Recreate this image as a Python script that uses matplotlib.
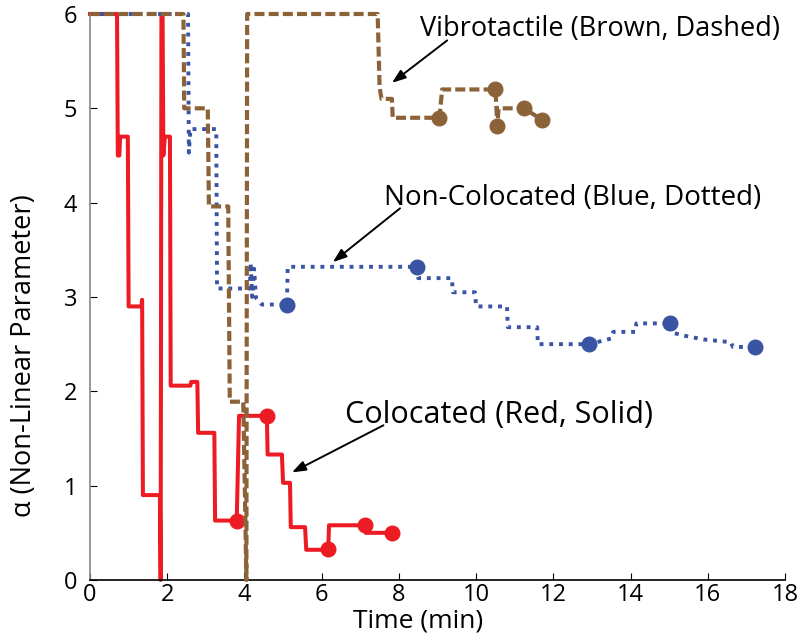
import matplotlib.pyplot as plt

plt.rcParams['font.family'] = ['Open Sans', 'DejaVu Sans']

# Colocated (red, solid) trajectory
red_t = [0, 0.70, 0.72, 0.76, 0.78, 0.98, 1.00, 1.33, 1.35, 1.37, 1.81, 1.83,
         1.85, 1.88, 1.90, 1.94, 2.07, 2.09, 2.60, 2.62, 2.78, 2.80, 3.22, 3.24,
         3.80, 3.86, 4.58, 4.60, 4.97, 5.00, 5.18, 5.20, 5.57, 5.60, 6.17, 6.19,
         7.12, 7.14, 7.82]
red_a = [6, 6, 4.5, 4.5, 4.7, 4.7, 2.9, 2.9, 2.97, 0.9, 0.9, 0,
         6, 6, 4.5, 4.7, 4.7, 2.06, 2.06, 2.1, 2.1, 1.56, 1.56, 0.63,
         0.63, 1.74, 1.74, 1.33, 1.33, 1.03, 1.03, 0.56, 0.56, 0.32, 0.32, 0.58,
         0.58, 0.5, 0.5]
red_mt = [3.80, 4.58, 6.17, 7.12, 7.82]
red_ma = [0.63, 1.74, 0.33, 0.58, 0.50]

# Non-Colocated (blue, dotted) trajectory
blue_t = [0, 2.54, 2.56, 2.60, 3.27, 3.29, 4.14, 4.16, 4.20, 4.25, 4.30, 4.45,
          5.10, 5.12, 8.47, 8.50, 9.37, 9.40, 9.97, 10.00, 10.80, 10.82, 11.58,
          11.60, 12.93, 13.50, 13.55, 14.12, 14.15, 15.03, 15.10, 15.50, 15.90,
          16.60, 16.65, 17.23]
blue_a = [6, 6, 4.53, 4.78, 4.78, 3.09, 3.09, 3.36, 3.0, 3.3, 2.99, 2.92,
          2.92, 3.32, 3.32, 3.2, 3.2, 3.05, 3.05, 2.9, 2.9, 2.68, 2.68,
          2.5, 2.5, 2.56, 2.63, 2.63, 2.72, 2.72, 2.62, 2.58, 2.55,
          2.52, 2.47, 2.47]
blue_mt = [5.10, 8.47, 12.93, 15.03, 17.23]
blue_ma = [2.92, 3.32, 2.50, 2.72, 2.47]

# Vibrotactile (brown, dashed) trajectory
brown_t = [0, 2.42, 2.44, 3.05, 3.08, 3.58, 3.62, 3.97, 4.05, 4.07, 7.45, 7.50,
           7.55, 7.82, 7.84, 9.05, 9.12, 10.50, 10.55, 10.58, 11.24, 11.70]
brown_a = [6, 6, 5.0, 5.0, 3.96, 3.96, 1.89, 1.89, 0, 6, 6, 5.22,
           5.1, 5.1, 4.9, 4.9, 5.2, 5.2, 4.81, 5.0, 5.0, 4.88]
brown_mt = [9.05, 10.50, 10.55, 11.24, 11.70]
brown_ma = [4.90, 5.20, 4.81, 5.00, 4.88]

RED = '#ED1C24'
BLUE = '#3A54A4'
BROWN = '#8C6239'

fig = plt.figure(figsize=(8.05, 6.42), dpi=100)
ax = fig.add_axes([0.1118, 0.0966, 0.8634, 0.8816])

# lines sit on the y=6 / y=0 limits, so don't clip them
ax.plot(red_t, red_a, color=RED, lw=2.9, zorder=2, clip_on=False)
ax.plot(red_mt, red_ma, 'o', color=RED, ms=10.5, zorder=2)
ax.plot(blue_t, blue_a, color=BLUE, lw=2.8, linestyle=(0, (1.0, 1.5)), zorder=3,
        clip_on=False)
ax.plot(blue_mt, blue_ma, 'o', color=BLUE, ms=10.5, zorder=3)
ax.plot(brown_t, brown_a, color=BROWN, lw=3.0, linestyle=(0, (2.4, 1.0)), zorder=4,
        clip_on=False)
ax.plot(brown_mt, brown_ma, 'o', color=BROWN, ms=10.5, zorder=4)

# annotations
arrow = dict(arrowstyle='-|>,head_length=0.55,head_width=0.2', color='black',
             lw=1.4, mutation_scale=15, shrinkA=0, shrinkB=0)
ax.annotate('', xy=(7.82, 5.27), xytext=(9.25, 5.72), arrowprops=arrow)
ax.text(8.55, 5.77, 'Vibrotactile (Brown, Dashed)', fontsize=19.5, va='baseline', ha='left')
ax.annotate('', xy=(6.29, 3.37), xytext=(8.03, 3.94), arrowprops=arrow)
ax.text(7.62, 3.975, 'Non-Colocated (Blue, Dotted)', fontsize=20, va='baseline', ha='left')
ax.annotate('', xy=(5.23, 1.14), xytext=(7.6, 1.64), arrowprops=arrow)
ax.text(6.6, 1.664, 'Colocated (Red, Solid)', fontsize=22, va='baseline', ha='left')

ax.set_xlim(0, 18)
ax.set_ylim(0, 6)
ax.set_xticks(range(0, 19, 2))
ax.set_yticks(range(0, 7))
ax.tick_params(direction='in', labelsize=17, length=5)
ax.tick_params(axis='x', pad=2)
ax.tick_params(axis='y', pad=9)
for s in ['top', 'right']:
    ax.spines[s].set_visible(False)
ax.spines['left'].set_color('#888888')
ax.spines['bottom'].set_color('black')
ax.spines['left'].set_linewidth(1.2)
ax.spines['bottom'].set_linewidth(1.2)
ax.set_xlabel('Time (min)', fontsize=19)
ax.set_ylabel('α (Non-Linear Parameter)', fontsize=19.5)
ax.xaxis.set_label_coords(0.472, -0.05)
ax.yaxis.set_label_coords(-0.075, 0.396)

fig.savefig('out.png', dpi=100)
